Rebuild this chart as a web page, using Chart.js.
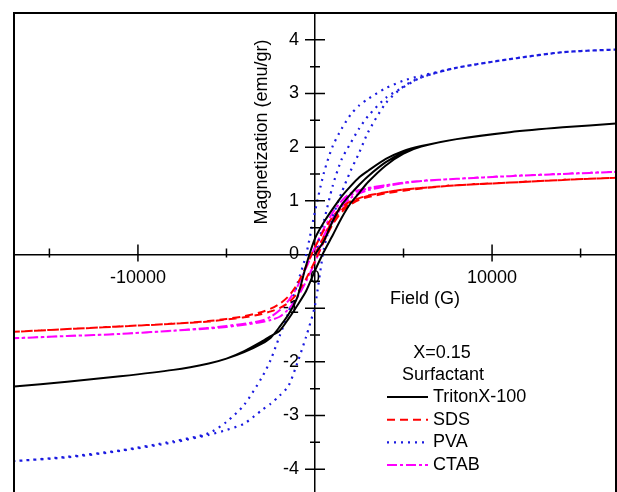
<!DOCTYPE html>
<html>
<head>
<meta charset="utf-8">
<script src="https://cdn.jsdelivr.net/npm/chart.js@4.4.0/dist/chart.umd.min.js"></script>
<style>
  html, body { margin: 0; padding: 0; background: #fff; overflow: hidden; }
  canvas { display: block; }
</style>
</head>
<body>
<canvas id="loopChart" width="617" height="500"></canvas>
<script>
// --- Field grids (G) ---
// descending branch: +17000 -> -17000
const downField = [17000, 14000, 11000, 8000, 6000, 5000, 4000, 3000, 2500, 2000, 1500, 1000, 500, 0,
    -500, -1000, -1500, -2000, -2500, -3000, -4000, -5000, -6000, -8000, -11000, -14000, -17000];
// ascending branch: -17000 -> +17000
const upField = [-17000, -14000, -11000, -8000, -6000, -5000, -4000, -3000, -2500, -2000, -1500, -1000, -500, 0,
    500, 1000, 1500, 2000, 2500, 3000, 4000, 5000, 6000, 8000, 11000, 14000, 17000];
// initial magnetization curve: 0 -> +17000
const virginField = [0, 500, 1000, 1500, 2000, 2500, 3000, 4000, 5000, 6000, 8000, 11000, 14000, 17000];

// --- Magnetization (emu/gr) ---
const tritonVirgin = [0, 0.25, 0.62, 0.92, 1.12, 1.30, 1.46, 1.72, 1.90, 2.02, 2.15, 2.28, 2.37, 2.44];
const tritonDown = [2.44, 2.37, 2.28, 2.15, 2.02, 1.93, 1.78, 1.56, 1.44, 1.27, 1.08, 0.85, 0.60, 0.30,
    -0.20, -0.80, -1.12, -1.35, -1.55, -1.66, -1.82, -1.94, -2.03, -2.15, -2.27, -2.37, -2.46];
const tritonUp = [-2.46, -2.37, -2.27, -2.15, -2.03, -1.94, -1.80, -1.62, -1.52, -1.42, -1.20, -0.95, -0.68, -0.30,
    0.05, 0.36, 0.68, 0.95, 1.15, 1.35, 1.66, 1.88, 2.01, 2.15, 2.28, 2.37, 2.44];

const sdsVirgin = [0, 0.33, 0.63, 0.83, 0.96, 1.04, 1.09, 1.16, 1.21, 1.24, 1.29, 1.34, 1.39, 1.43];
const sdsDown = [1.43, 1.39, 1.34, 1.29, 1.24, 1.21, 1.16, 1.10, 1.05, 0.99, 0.88, 0.70, 0.45, 0.14,
    -0.22, -0.55, -0.78, -0.92, -1.01, -1.07, -1.15, -1.20, -1.24, -1.29, -1.34, -1.39, -1.44];
const sdsUp = [-1.44, -1.39, -1.34, -1.29, -1.25, -1.21, -1.17, -1.11, -1.06, -1.00, -0.90, -0.72, -0.45, -0.12,
    0.24, 0.56, 0.79, 0.93, 1.02, 1.07, 1.14, 1.19, 1.23, 1.29, 1.34, 1.39, 1.43];

const pvaVirgin = [0, 0.62, 1.28, 1.77, 2.07, 2.35, 2.58, 2.92, 3.12, 3.30, 3.48, 3.64, 3.77, 3.82];
const pvaDown = [3.82, 3.77, 3.64, 3.48, 3.33, 3.24, 3.10, 2.90, 2.78, 2.60, 2.34, 2.02, 1.52, 0.80,
    0.00, -0.55, -1.08, -1.52, -1.96, -2.29, -2.80, -3.12, -3.33, -3.48, -3.65, -3.77, -3.85];
const pvaUp = [-3.85, -3.78, -3.66, -3.50, -3.36, -3.27, -3.15, -2.90, -2.78, -2.63, -2.45, -2.02, -1.53, -0.95,
    0.10, 0.70, 1.15, 1.55, 1.90, 2.28, 2.82, 3.13, 3.30, 3.48, 3.64, 3.77, 3.82];

const ctabVirgin = [0, 0.35, 0.68, 0.93, 1.10, 1.18, 1.23, 1.29, 1.33, 1.37, 1.41, 1.46, 1.50, 1.54];
const ctabDown = [1.54, 1.50, 1.46, 1.41, 1.37, 1.34, 1.29, 1.24, 1.20, 1.14, 1.00, 0.78, 0.48, 0.14,
    -0.25, -0.60, -0.86, -1.04, -1.16, -1.23, -1.29, -1.33, -1.37, -1.42, -1.48, -1.52, -1.56];
const ctabUp = [-1.56, -1.52, -1.48, -1.42, -1.38, -1.35, -1.31, -1.26, -1.22, -1.16, -1.02, -0.80, -0.50, -0.14,
    0.25, 0.60, 0.88, 1.05, 1.14, 1.20, 1.27, 1.33, 1.37, 1.41, 1.46, 1.50, 1.54];

// --- Ticks ---
const xMajorTicks = [-10000, 0, 10000];
const xMinorTicks = [-15000, -5000, 5000, 15000];
const yMajorTicks = [-4, -3, -2, -1, 0, 1, 2, 3, 4];
const yMinorTicks = [-3.5, -2.5, -1.5, -0.5, 0.5, 1.5, 2.5, 3.5];

const legendTitle = ['X=0.15', 'Surfactant'];

// virgin curve, then down branch, then up branch as one path
function loopPoints(virgin, down, up) {
    const pts = [];
    virginField.forEach((h, i) => pts.push({ x: h, y: virgin[i] }));
    downField.forEach((h, i) => pts.push({ x: h, y: down[i] }));
    upField.forEach((h, i) => pts.push({ x: h, y: up[i] }));
    return pts;
}

const font = '18px "Liberation Sans", Arial, sans-serif';

const decorPlugin = {
    id: 'decor',
    afterDraw(chart) {
        const { ctx, chartArea: a, scales: { x, y } } = chart;
        const x0 = x.getPixelForValue(0);
        const y0 = y.getPixelForValue(0);
        ctx.save();
        ctx.strokeStyle = '#000';
        ctx.fillStyle = '#000';

        // frame
        ctx.lineWidth = 2;
        ctx.strokeRect(a.left, a.top, a.right - a.left, a.bottom - a.top);

        // tick marks crossing the axes
        ctx.lineWidth = 1.5;
        ctx.beginPath();
        xMajorTicks.forEach(v => {
            if (v === 0) return;
            const px = x.getPixelForValue(v);
            ctx.moveTo(px, y0 - 10); ctx.lineTo(px, y0 + 7);
        });
        xMinorTicks.forEach(v => {
            const px = x.getPixelForValue(v);
            ctx.moveTo(px, y0 - 6); ctx.lineTo(px, y0 + 3);
        });
        yMajorTicks.forEach(v => {
            if (v === 0) return;
            const py = y.getPixelForValue(v);
            ctx.moveTo(x0 - 10, py); ctx.lineTo(x0 + 10, py);
        });
        yMinorTicks.forEach(v => {
            const py = y.getPixelForValue(v);
            ctx.moveTo(x0 - 5, py); ctx.lineTo(x0 + 5, py);
        });
        ctx.stroke();

        // tick labels
        ctx.font = font;
        ctx.textBaseline = 'middle';
        ctx.textAlign = 'right';
        yMajorTicks.forEach(v => ctx.fillText(String(v), x0 - 16, y.getPixelForValue(v)));
        ctx.textAlign = 'center';
        xMajorTicks.forEach(v => ctx.fillText(String(v), x.getPixelForValue(v), y0 + 24));

        // axis titles
        ctx.fillText('Field (G)', 425, 299);
        ctx.save();
        ctx.translate(262, 132);
        ctx.rotate(-Math.PI / 2);
        ctx.fillText('Magnetization (emu/gr)', 0, 0);
        ctx.restore();

        // legend
        ctx.fillText(legendTitle[0], 442, 353);
        ctx.fillText(legendTitle[1], 443, 375);
        chart.data.datasets.forEach((ds, i) => {
            const ly = 397 + i * 22.7;
            ctx.save();
            ctx.strokeStyle = ds.borderColor;
            ctx.lineWidth = ds.borderWidth;
            ctx.setLineDash(ds.borderDash || []);
            ctx.beginPath();
            ctx.moveTo(387, ly); ctx.lineTo(428, ly);
            ctx.stroke();
            ctx.restore();
            ctx.textAlign = 'left';
            ctx.fillText(ds.label, 433, ly);
        });
        ctx.restore();
    }
};

const ctx = document.getElementById('loopChart');
new Chart(ctx.getContext('2d'), {
    type: 'scatter',
    data: {
        datasets: [
            {
                label: 'TritonX-100',
                data: loopPoints(tritonVirgin, tritonDown, tritonUp),
                borderColor: '#000000',
                borderWidth: 2,
                borderDash: []
            },
            {
                label: 'SDS',
                data: loopPoints(sdsVirgin, sdsDown, sdsUp),
                borderColor: '#ff0000',
                borderWidth: 2,
                borderDash: [8, 5]
            },
            {
                label: 'PVA',
                data: loopPoints(pvaVirgin, pvaDown, pvaUp),
                borderColor: '#1a1ae0',
                borderWidth: 2.2,
                borderDash: [2, 5]
            },
            {
                label: 'CTAB',
                data: loopPoints(ctabVirgin, ctabDown, ctabUp),
                borderColor: '#ff00ff',
                borderWidth: 2,
                borderDash: [10, 3, 3, 3]
            }
        ].map(ds => Object.assign(ds, { showLine: true, pointRadius: 0, tension: 0.25, fill: false }))
    },
    options: {
        responsive: false,
        animation: false,
        devicePixelRatio: 1,
        layout: { padding: { left: 14, top: 13, right: 1, bottom: 4 } },
        plugins: {
            legend: { display: false },
            tooltip: { enabled: false }
        },
        scales: {
            x: {
                type: 'linear',
                position: { y: 0 },
                min: -17000,
                max: 17000,
                grid: { display: false, drawTicks: false },
                border: { display: true, color: '#000', width: 1.5 },
                ticks: { display: false }
            },
            y: {
                type: 'linear',
                position: { x: 0 },
                min: -4.5,
                max: 4.5,
                grid: { display: false, drawTicks: false },
                border: { display: true, color: '#000', width: 1.5 },
                ticks: { display: false }
            }
        }
    },
    plugins: [decorPlugin]
});
</script>
</body>
</html>
